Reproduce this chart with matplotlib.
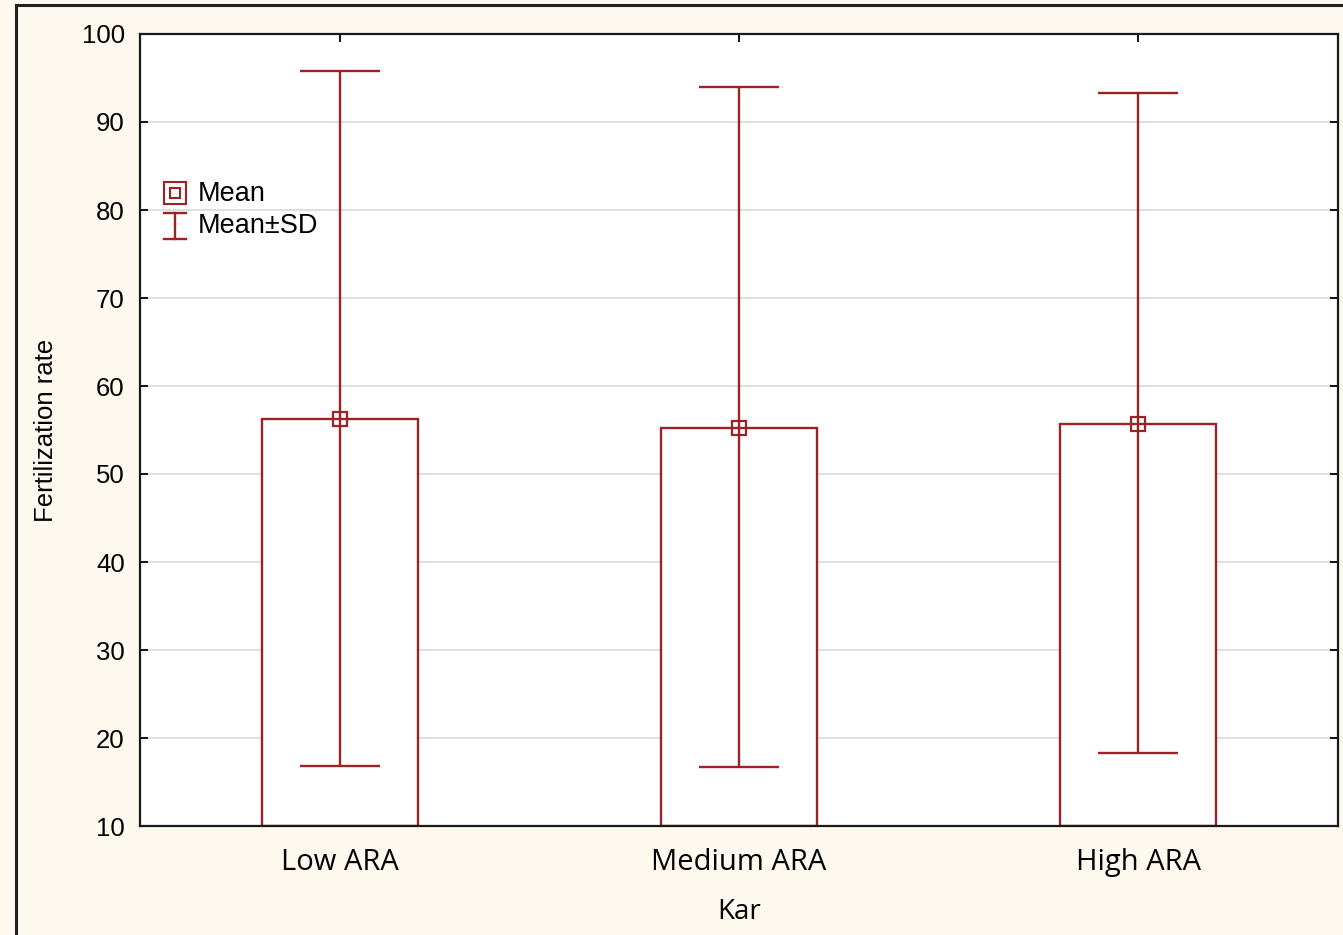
import matplotlib.pyplot as plt
from matplotlib.lines import Line2D
import numpy as np

# data
groups = ['Low ARA', 'Medium ARA', 'High ARA']
means = [56.3, 55.2, 55.7]
upper = [95.8, 94.0, 93.3]
lower = [16.8, 16.7, 18.3]

red = '#9b2326'
cream = '#fef9ee'

fig = plt.figure(figsize=(13.43, 9.35), dpi=100)
fig.patch.set_facecolor(cream)
ax = fig.add_axes([140 / 1343, 1 - 826 / 935, 1198 / 1343, 792 / 935])
ax.set_facecolor('white')

x = np.arange(len(groups))
means = np.array(means)
yerr = [means - np.array(lower), np.array(upper) - means]

ax.bar(x, means - 10, bottom=10, width=0.39, facecolor='white',
       edgecolor=red, linewidth=1.7, zorder=2)
ax.errorbar(x, means, yerr=yerr, fmt='none', ecolor=red, elinewidth=1.7,
            capsize=29, capthick=1.7, zorder=3)
# mean markers: small square with the lines crossing it
ax.plot(x, means, 's', ms=10, mfc='none', mec=red, mew=1.6, zorder=4)

ax.set_xlim(-0.5, 2.5)
ax.set_ylim(10, 100)
ax.set_yticks(np.arange(10, 101, 10))
ax.set_xticks(x)
ax.set_xticklabels(groups, fontsize=21, family='Open Sans')
ax.tick_params(axis='y', labelsize=18.5, direction='in', right=True, length=6, width=1.3, pad=11)
ax.tick_params(axis='x', direction='in', top=True, length=6, width=1.3, pad=16)
for lab in ax.get_yticklabels():
    lab.set_family('Liberation Sans')
ax.yaxis.grid(True, color='#dcdcdc', linewidth=1.3, zorder=0)
ax.set_axisbelow(True)
for sp in ax.spines.values():
    sp.set_linewidth(1.6)
    sp.set_color('#1a1a1a')

ax.set_xlabel('Kar', fontsize=20, family='Open Sans')
ax.xaxis.set_label_coords(0.5, (826 - 898) / 792)
ax.set_ylabel('Fertilization rate', fontsize=18.5, family='Liberation Sans')
ax.yaxis.set_label_coords((58 - 140) / 1198, 0.5)

# legend, drawn by hand in axes fraction
tr = ax.transAxes
lx = (175 - 140) / 1198
ax.plot([lx], [(826 - 193) / 792], 's', ms=16.5, mfc='white', mec=red, mew=1.5,
        transform=tr, clip_on=False, zorder=6)
ax.plot([lx], [(826 - 193) / 792], 's', ms=7.5, mfc='none', mec=red, mew=1.5,
        transform=tr, clip_on=False, zorder=7)
y_top, y_bot = (826 - 213) / 792, (826 - 239) / 792
cap = 11 / 1198
ax.plot([lx, lx], [y_bot, y_top], color=red, lw=1.7, transform=tr, zorder=6)
ax.plot([lx - cap, lx + cap], [y_top, y_top], color=red, lw=1.7, transform=tr, zorder=6)
ax.plot([lx - cap, lx + cap], [y_bot, y_bot], color=red, lw=1.7, transform=tr, zorder=6)
tx = (198 - 140) / 1198
ax.text(tx, (826 - 194) / 792, 'Mean', transform=tr, fontsize=19.5,
        family='Liberation Sans', va='center', ha='left', zorder=6)
ax.text(tx, (826 - 226) / 792, 'Mean\u00b1SD', transform=tr, fontsize=19.5,
        family='Liberation Sans', va='center', ha='left', zorder=6)

# frame border of the figure (cropped screenshot)
fig.add_artist(Line2D([16 / 1343, 16 / 1343], [0, 1 - 5 / 935], color='#222222', lw=2.2))
fig.add_artist(Line2D([16 / 1343, 1], [1 - 5 / 935, 1 - 5 / 935], color='#222222', lw=2.2))

fig.savefig('out.png', dpi=100, facecolor=cream)
